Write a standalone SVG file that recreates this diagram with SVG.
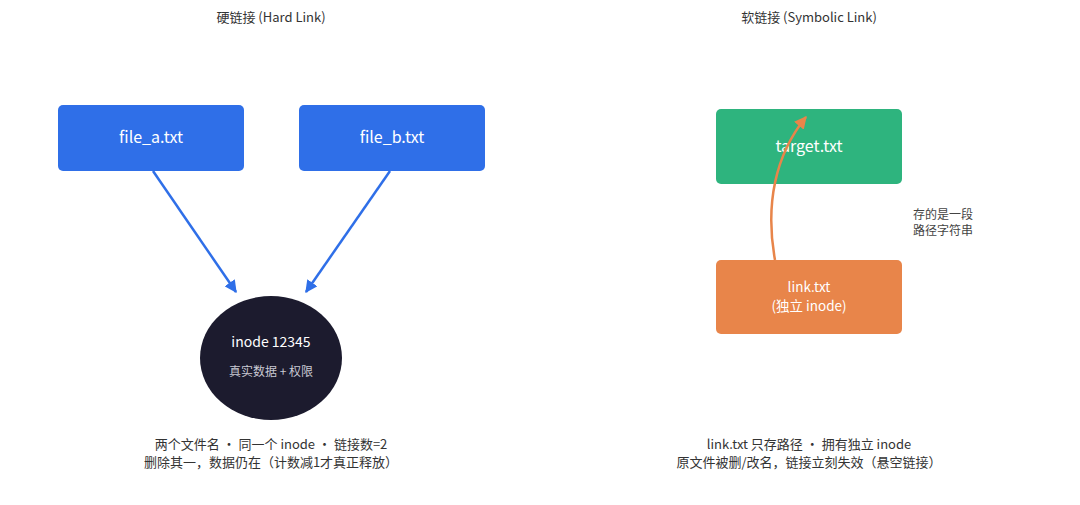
<svg xmlns="http://www.w3.org/2000/svg" width="1080" height="505" viewBox="0 0 1080 505">
<defs>
<style>
text{font-family:"Noto Sans CJK SC","Noto Sans",sans-serif;}
.title{font-size:13px;fill:#333;text-anchor:middle;}
.lbl{font-size:16px;fill:#fff;text-anchor:middle;}
.note{font-size:13px;fill:#333;text-anchor:middle;}
.side{font-size:12px;fill:#444;}
</style>
<marker id="ab" viewBox="0 0 10 10" refX="9" refY="5" markerWidth="5" markerHeight="5" orient="auto-start-reverse" markerUnits="strokeWidth"><path d="M0,0 L10,5 L0,10 z" fill="#2F6FE8"/></marker>
<marker id="ao" viewBox="0 0 10 10" refX="9" refY="5" markerWidth="5" markerHeight="5" orient="auto-start-reverse" markerUnits="strokeWidth"><path d="M0,0 L10,5 L0,10 z" fill="#E8854A"/></marker>
</defs>
<rect width="1080" height="505" fill="#fff"/>
<text class="title" x="271" y="22">硬链接 (Hard Link)</text>
<text class="title" x="809" y="22">软链接 (Symbolic Link)</text>
<g id="file_a"><rect x="58" y="105" width="186" height="66" rx="5" fill="#2F6FE8"/><text class="lbl" x="151" y="143">file_a.txt</text></g>
<g id="file_b"><rect x="299" y="105" width="186" height="66" rx="5" fill="#2F6FE8"/><text class="lbl" x="392" y="143">file_b.txt</text></g>
<g id="inode"><ellipse cx="271" cy="358" rx="71" ry="62" fill="#1C1B2E"/><text x="271" y="347" font-size="14" fill="#fff" text-anchor="middle">inode 12345</text><text x="271" y="376" font-size="12" fill="#C9C9D3" text-anchor="middle">真实数据 + 权限</text></g>
<g id="target"><rect x="716" y="109" width="186" height="75" rx="5" fill="#2EB47E"/><text class="lbl" x="809" y="152">target.txt</text></g>
<g id="link"><rect x="716" y="260" width="186" height="74" rx="5" fill="#E8854A"/><text x="809" y="292" font-size="13.5" fill="#fff" text-anchor="middle">link.txt</text><text x="809" y="311" font-size="13.5" fill="#fff" text-anchor="middle">(独立 inode)</text></g>
<g id="connectors" fill="none" stroke-width="2.5">
<line x1="153" y1="171" x2="236" y2="292" stroke="#2F6FE8" marker-end="url(#ab)"/>
<line x1="390" y1="171" x2="306" y2="292" stroke="#2F6FE8" marker-end="url(#ab)"/>
<path d="M775,260 C765,205 775,155 806,117" stroke="#E8854A" marker-end="url(#ao)"/>
</g>
<g id="side-label"><text class="side" x="913" y="219">存的是一段</text><text class="side" x="913" y="235">路径字符串</text></g>
<text class="note" x="271" y="449">两个文件名 · 同一个 inode · 链接数=2</text>
<text class="note" x="271" y="467">删除其一，数据仍在（计数减1才真正释放）</text>
<text class="note" x="809" y="449">link.txt 只存路径 · 拥有独立 inode</text>
<text class="note" x="809" y="467">原文件被删/改名，链接立刻失效（悬空链接）</text>
</svg>
